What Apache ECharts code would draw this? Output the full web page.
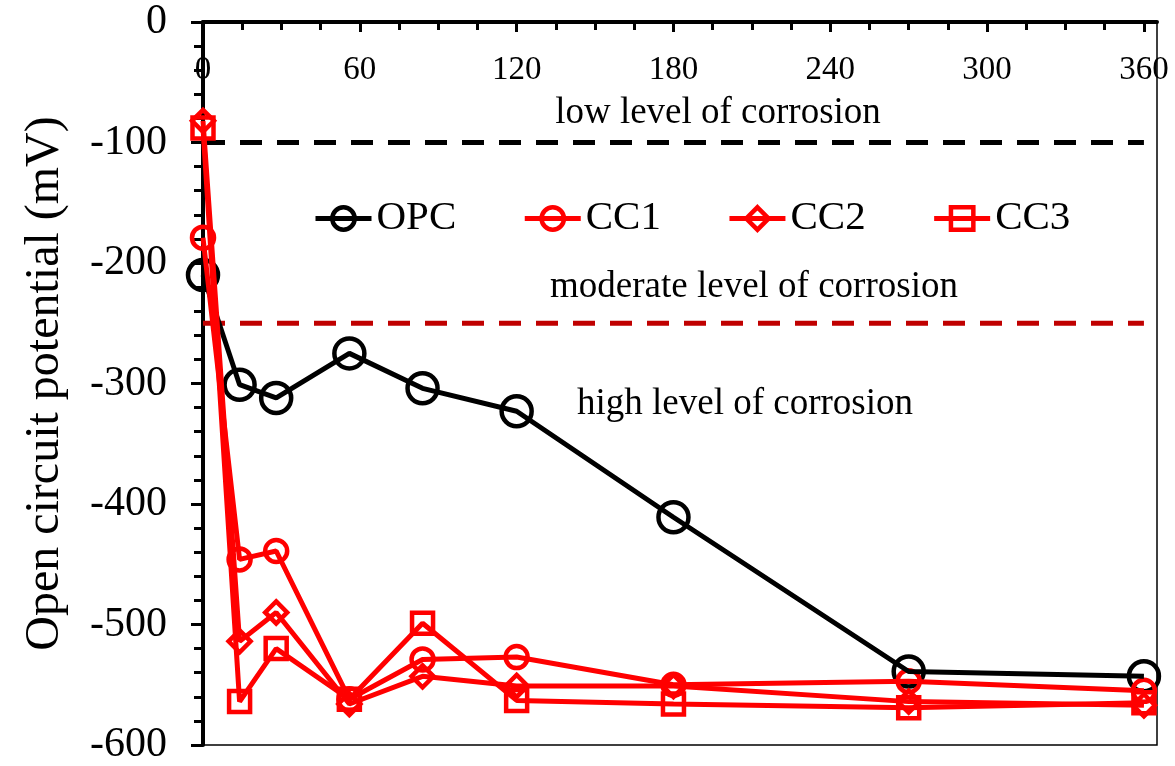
<!DOCTYPE html>
<html>
<head>
<meta charset="utf-8">
<script src="https://cdn.jsdelivr.net/npm/echarts@6/dist/echarts.min.js"></script>
<style>
  html, body { margin: 0; padding: 0; background: #fff; }
  #chart { width: 1175px; height: 766px; }
</style>
</head>
<body>
<div id="chart"></div>
<script>
// Exposure time (days) and open circuit potential (mV) for each mix
const days = [0, 14, 28, 56, 84, 120, 180, 270, 360];
const opc = [-210, -301, -312, -275, -304, -323, -411, -539, -543];
const cc1 = [-179, -446, -439, -562, -529, -527, -550, -547, -555];
const cc2 = [-82, -514, -490, -566, -543, -551, -551, -564, -567];
const cc3 = [-88, -564, -520, -562, -499, -563, -566, -569, -565];

// Corrosion-risk thresholds (mV) and the zone captions
const thresholdLow = -100;
const thresholdHigh = -250;
const zoneLabels = ['low level of corrosion', 'moderate level of corrosion', 'high level of corrosion'];

// Axis tick values
const xMajorTicks = [0, 60, 120, 180, 240, 300, 360];
const xMinorTicks = [15, 30, 45, 75, 90, 105, 135, 150, 165, 195, 210, 225, 255, 270, 285, 315, 330, 345];

const FONT = '"Liberation Serif", "Times New Roman", serif';

function pairs(ys) { return days.map((d, i) => [d, ys[i]]); }

// Outlined marker shape at a data point (no fill, so the line shows through)
function markerShape(kind, cx, cy, size, color, lw) {
  const h = size / 2;
  const style = { fill: 'none', stroke: color, lineWidth: lw };
  if (kind === 'circle') {
    return { type: 'circle', shape: { cx, cy, r: h }, style };
  }
  if (kind === 'diamond') {
    return { type: 'polygon', shape: { points: [[cx, cy - h], [cx + h, cy], [cx, cy + h], [cx - h, cy]] }, style };
  }
  return { type: 'rect', shape: { x: cx - h, y: cy - h, width: size, height: size }, style };
}

// One mix = a polyline plus its outlined markers drawn on top
function mix(name, ys, color, symbol, size) {
  return [
    {
      name, type: 'line', data: pairs(ys),
      symbol, symbolSize: size, showSymbol: false,
      lineStyle: { color, width: 5 },
      itemStyle: { color: 'rgba(255,255,255,0)', borderColor: color, borderWidth: 4.5 }
    },
    {
      name: name + ' markers', type: 'custom', data: pairs(ys), silent: true, clip: false,
      encode: { x: 0, y: 1 },
      renderItem(params, api) {
        const p = api.coord([api.value(0), api.value(1)]);
        return markerShape(symbol, p[0], p[1], size, color, 4.5);
      }
    }
  ];
}

const chart = echarts.init(document.getElementById('chart'), null, { renderer: 'canvas' });

chart.setOption({
  animation: false,
  backgroundColor: '#fff',
  grid: {
    left: 203, right: 18, top: 22, bottom: 19,
    show: true, borderColor: '#000', borderWidth: 1.5, backgroundColor: 'transparent'
  },
  legend: {
    data: ['OPC', 'CC1', 'CC2', 'CC3'],
    left: 308, top: 193,
    itemWidth: 56, itemHeight: 28, itemGap: 66,
    itemStyle: { borderWidth: 4.5 },
    lineStyle: { width: 5 },
    textStyle: { fontFamily: FONT, fontSize: 41, color: '#000' }
  },
  xAxis: [
    {
      type: 'value', position: 'top', min: 0, max: 365,
      axisLine: { show: true, lineStyle: { color: '#000', width: 4 } },
      axisTick: { show: true, inside: true, length: 10, customValues: xMajorTicks, lineStyle: { color: '#000', width: 3 } },
      axisLabel: { inside: true, margin: 32, customValues: xMajorTicks, fontFamily: FONT, fontSize: 33, color: '#000' },
      splitLine: { show: false }
    },
    {
      type: 'value', position: 'top', min: 0, max: 365,
      axisLine: { show: false },
      axisTick: { show: true, inside: true, length: 8, customValues: xMinorTicks, lineStyle: { color: '#000', width: 3 } },
      axisLabel: { show: false },
      splitLine: { show: false }
    }
  ],
  yAxis: {
    type: 'value', min: -600, max: 0, interval: 100,
    name: 'Open circuit potential (mV)',
    nameLocation: 'middle', nameGap: 134, nameRotate: 90,
    nameTextStyle: { fontFamily: FONT, fontSize: 48, color: '#000' },
    axisLine: { show: true, lineStyle: { color: '#000', width: 4 } },
    axisTick: { show: true, inside: false, length: 12, lineStyle: { color: '#000', width: 3 } },
    minorTick: { show: true, splitNumber: 5, length: 9, lineStyle: { color: '#000', width: 3 } },
    axisLabel: { margin: 36, fontFamily: FONT, fontSize: 42, color: '#000' },
    splitLine: { show: false }
  },
  graphic: [
    { type: 'text', x: 718, y: 113, style: { text: zoneLabels[0], font: '37px ' + FONT, fill: '#000', align: 'center', verticalAlign: 'middle', textAlign: 'center', textVerticalAlign: 'middle' } },
    { type: 'text', x: 754, y: 287, style: { text: zoneLabels[1], font: '37px ' + FONT, fill: '#000', align: 'center', verticalAlign: 'middle', textAlign: 'center', textVerticalAlign: 'middle' } },
    { type: 'text', x: 745, y: 404, style: { text: zoneLabels[2], font: '37px ' + FONT, fill: '#000', align: 'center', verticalAlign: 'middle', textAlign: 'center', textVerticalAlign: 'middle' } }
  ],
  series: [
    {
      name: 'lowThreshold', type: 'line', silent: true, symbol: 'none', z: 1,
      data: [[0, thresholdLow], [360, thresholdLow]],
      lineStyle: { color: '#000', width: 5, type: [22, 15] }
    },
    {
      name: 'highThreshold', type: 'line', silent: true, symbol: 'none', z: 1,
      data: [[0, thresholdHigh], [360, thresholdHigh]],
      lineStyle: { color: '#C00000', width: 5, type: [22, 15] }
    },
    ...mix('OPC', opc, '#000000', 'circle', 30),
    ...mix('CC1', cc1, '#FF0000', 'circle', 22),
    ...mix('CC2', cc2, '#FF0000', 'diamond', 22),
    ...mix('CC3', cc3, '#FF0000', 'rect', 21)
  ]
});
</script>
</body>
</html>
